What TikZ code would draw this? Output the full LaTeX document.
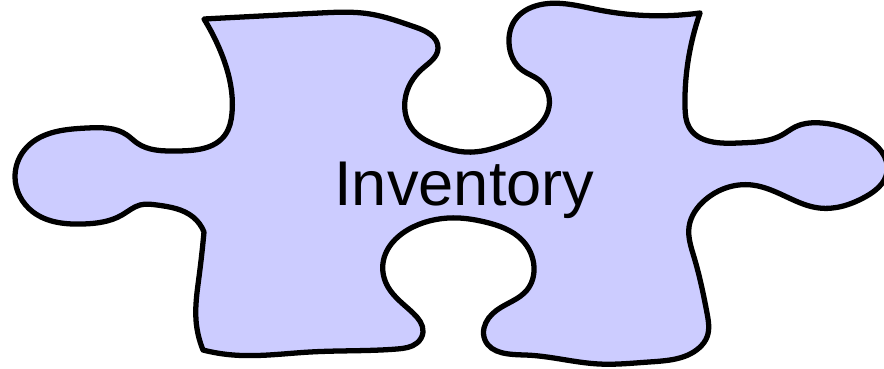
\documentclass[tikz,border=0pt]{standalone}
\usepackage{xcolor}
\usepackage{fontspec}
\setmainfont{Liberation Sans}
\usetikzlibrary{hobby}
\definecolor{PieceBlue}{HTML}{CCCCFF}

\begin{document}
\begin{tikzpicture}[
    x=0.02cm, y=-0.02cm,
    use Hobby shortcut,
    piece/.style={fill=PieceBlue,draw=black,line width=3pt,line join=round},
    every node/.style={font=\fontsize{36}{40}\selectfont}
  ]
    % page frame
    \path[use as bounding box,clip] (0,0) rectangle (884,368);
    % puzzle outline
    \draw[piece] (204,19) .. (320,13) .. (370,14) .. (415,27) .. (438,48) .. (422,69)
      .. (405,100) .. (413,130) .. (442,147) .. (465,152) .. (509,143) .. (542,122) .. (549,107)
      .. (539,80) .. (522,70) .. (509,43) .. (515,20) .. (539,5) .. (599,10) .. (700,13)
      -- (700,13) .. (690,50) .. (685,107) .. (689,127) .. (739,143) .. (782,135) .. (795,127)
      .. (822,123) .. (865,137) .. (887,172) .. (865,197) .. (819,208) .. (789,198)
      .. (752,185) .. (705,200) .. (689,227) .. (694,257) .. (707,313) .. (707,337)
      .. (699,348) .. (649,362) .. (599,364) .. (525,355) .. (485,340) .. (484,328)
      .. (497,310) .. (527,290) .. (534,267) .. (522,240) .. (485,222) .. (459,218)
      .. (413,227) .. (383,263) .. (388,287) .. (413,313) .. (423,332) .. (417,343)
      .. (397,349) .. (310,352) .. (233,355) .. (203,350)
      -- (203,350) .. (196,320) .. (199,277) .. (204,232)
      -- (204,232) .. (193,217) .. (157,205)
      .. (140,205) .. (122,215) .. (83,224) .. (33,212) .. (15,177) .. (27,147) .. (87,128)
      .. (127,135) .. (137,143) .. (177,151) .. (225,135) .. (232,113) .. (220,50) .. (204,19)
      -- cycle;
    % label
    \node[anchor=base west,inner sep=0pt] (inventory) at (334,205) {Inventory};
\end{tikzpicture}
\end{document}
